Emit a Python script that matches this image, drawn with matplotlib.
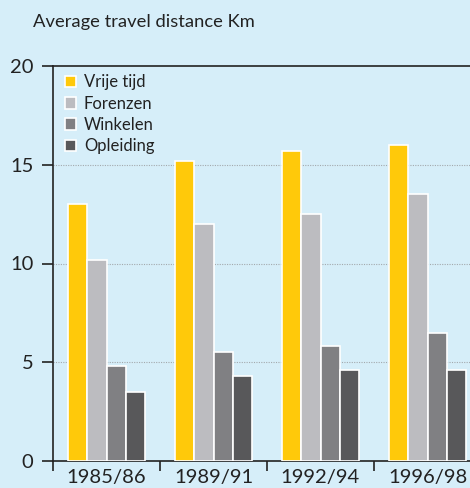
import matplotlib.pyplot as plt
import numpy as np

plt.rcParams['font.family'] = ['Lato', 'DejaVu Sans']

periods = ["1985/86", "1989/91", "1992/94", "1996/98"]
series = ["Vrije tijd", "Forenzen", "Winkelen", "Opleiding"]
vrije_tijd = [13.0, 15.2, 15.7, 16.0]
forenzen = [10.2, 12.0, 12.5, 13.5]
winkelen = [4.8, 5.5, 5.8, 6.5]
opleiding = [3.5, 4.3, 4.6, 4.6]
values = [vrije_tijd, forenzen, winkelen, opleiding]
colors = ["#ffc90a", "#bcbcc0", "#808083", "#58585a"]
bg = "#d6eef9"

fig = plt.figure(figsize=(4.7, 4.88), dpi=100, facecolor=bg)
ax = fig.add_axes([53/470, 27/488, 1 - 53/470, (461-66)/488])
ax.set_facecolor(bg)

x = np.arange(len(periods)) + 0.5
bw = 0.18
for i in range(len(series)):
	ax.bar(x + (i - 1.5)*bw, values[i], width=bw, color=colors[i],
		edgecolor="white", linewidth=1.2, label=series[i], zorder=3)

ax.set_ylim(0, 20)
ax.set_xlim(0, 470/107 - 53/107)
ax.set_yticks([0, 5, 10, 15, 20])
for v in [5, 10, 15]:
	ax.axhline(v, color="#a3a9ad", linestyle=(0, (1, 1.2)), linewidth=0.8, zorder=1)

ax.set_xticks(x)
ax.set_xticklabels(periods, fontsize=14.6, color="#222222")
ax.set_xticks(np.arange(0, 4), minor=True)
ax.tick_params(axis="x", which="major", length=0, pad=6)
ax.tick_params(axis="x", which="minor", length=7, width=1.2, direction="out", color="#222222")
ax.tick_params(axis="y", length=8, width=1.2, direction="out", labelsize=14.5, color="#222222", labelcolor="#222222", pad=6)

for s in ["left", "bottom", "top"]:
	ax.spines[s].set_color("#222222")
	ax.spines[s].set_linewidth(1.2)
ax.spines["right"].set_visible(False)

leg = ax.legend(loc="upper left", bbox_to_anchor=(0.008, 1.0), frameon=False, fontsize=12,
	handlelength=0.7, handleheight=0.7, handletextpad=0.45, labelspacing=0.32, borderaxespad=0.1)
for t in leg.get_texts():
	t.set_color("#222222")

fig.text(33/470, 1 - 22/488, "Average travel distance Km", fontsize=13.2, color="#222222", va="center", ha="left")

fig.savefig("out.png", dpi=100, facecolor=bg)
